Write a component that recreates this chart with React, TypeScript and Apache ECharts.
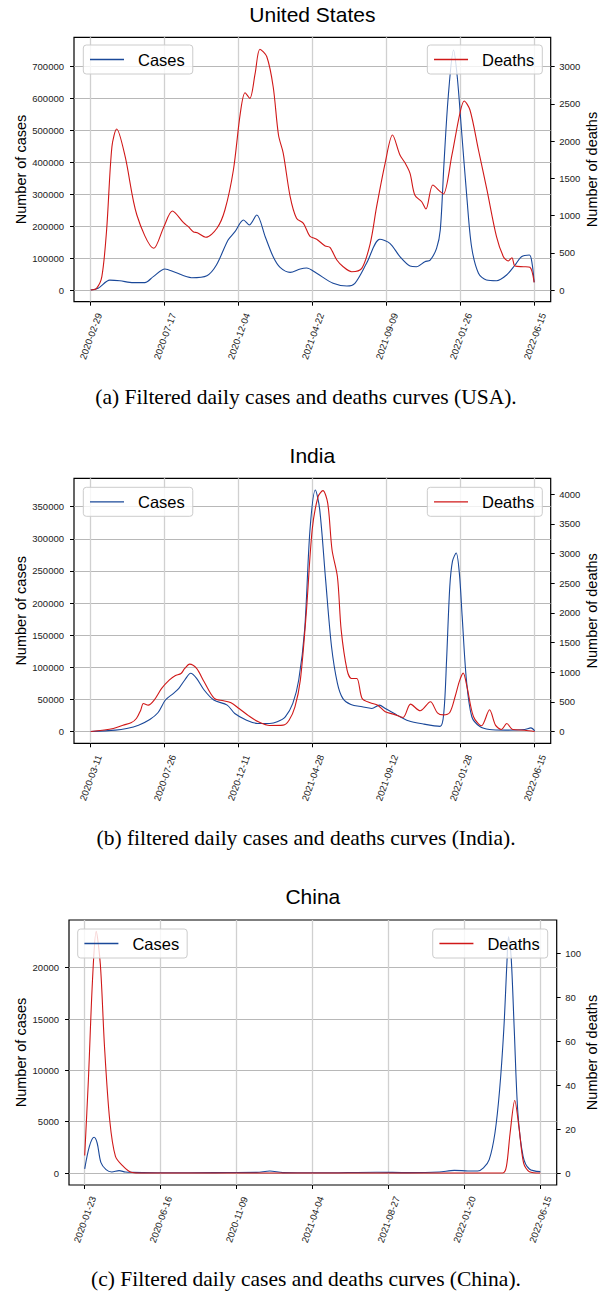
import React, { useEffect, useRef } from 'react';
import * as echarts from 'echarts';

// ---------- tick labels ----------
const usTickLabels = ['2020-02-29', '2020-07-17', '2020-12-04', '2021-04-22', '2021-09-09', '2022-01-26', '2022-06-15'];
const inTickLabels = ['2020-03-11', '2020-07-26', '2020-12-11', '2021-04-28', '2021-09-12', '2022-01-28', '2022-06-15'];
const cnTickLabels = ['2020-01-23', '2020-06-16', '2020-11-09', '2021-04-04', '2021-08-27', '2022-01-20', '2022-06-15'];

// total days between first and last tick
const usSpanDays = 837;
const inSpanDays = 826;
const cnSpanDays = 874;

// ---------- series values: [day offset, value] ----------
const usCases = [[0, 0], [14, 5300], [36, 31000], [55, 29000], [80, 23000], [102, 23000], [118, 42000], [140, 65800], [159, 55400], [190, 38600], [219, 44800], [237, 78400], [259, 156700], [272, 182800], [288, 219400], [299, 203800], [313, 235100], [329, 167100], [344, 104400], [357, 71100], [376, 55400], [395, 66000], [407, 69000], [426, 52300], [457, 21000], [483, 12500], [498, 21000], [520, 83700], [545, 158900], [564, 146400], [583, 104400], [602, 75200], [614, 73100], [630, 88700], [640, 94000], [652, 130700], [659, 188000], [666, 397000], [674, 606000], [684, 752300], [691, 668700], [699, 501600], [709, 292600], [718, 135700], [731, 52300], [746, 31300], [765, 29200], [784, 47000], [800, 78400], [812, 104400], [827, 109700], [832, 83700], [836, 24100]];
const usDeaths = [[0, 0], [11, 23], [21, 179], [30, 806], [40, 1925], [49, 2163], [65, 1791], [87, 1008], [119, 560], [138, 851], [154, 1061], [175, 904], [184, 851], [194, 779], [201, 770], [217, 708], [238, 829], [253, 1075], [269, 1612], [282, 2374], [291, 2651], [300, 2575], [310, 2911], [319, 3234], [332, 3134], [344, 2731], [354, 2082], [363, 1836], [376, 1254], [388, 963], [401, 896], [413, 725], [426, 681], [442, 591], [451, 573], [464, 403], [476, 313], [492, 246], [511, 291], [527, 627], [539, 1119], [555, 1702], [569, 2082], [583, 1814], [593, 1702], [602, 1568], [611, 1276], [624, 1186], [632, 1088], [645, 1411], [659, 1321], [665, 1290], [681, 1814], [696, 2374], [704, 2539], [715, 2418], [731, 1881], [747, 1344], [765, 716], [778, 448], [787, 390], [794, 434], [800, 322], [816, 313], [828, 305], [836, 103]];

const inCases = [[0, 0], [46, 2100], [67, 4700], [89, 9900], [110, 18750], [125, 29200], [139, 49000], [154, 59400], [164, 67200], [175, 80200], [186, 90600], [197, 82800], [211, 64600], [229, 49000], [254, 41100], [268, 28100], [290, 17700], [311, 12500], [333, 12500], [347, 15100], [362, 22900], [376, 43700], [387, 80200], [398, 158300], [408, 314600], [418, 376000], [426, 345800], [437, 236400], [448, 132300], [459, 75000], [469, 51600], [484, 42200], [505, 38500], [523, 35900], [537, 41100], [548, 35900], [570, 25500], [591, 16700], [620, 11500], [650, 8000], [657, 30000], [662, 110000], [668, 225000], [673, 265000], [680, 278000], [686, 245000], [691, 180000], [699, 80000], [709, 23000], [724, 7800], [742, 3100], [771, 2100], [807, 3100], [819, 5700], [826, 1000]];
const inDeaths = [[0, 0], [42, 51], [60, 107], [75, 146], [85, 219], [93, 360], [98, 473], [107, 444], [118, 529], [132, 726], [146, 866], [157, 940], [168, 979], [175, 1063], [184, 1136], [197, 1063], [211, 838], [230, 557], [247, 518], [261, 484], [276, 388], [294, 264], [312, 163], [333, 101], [358, 107], [369, 191], [380, 416], [390, 866], [401, 1992], [412, 3398], [423, 3961], [432, 4062], [441, 3848], [449, 3061], [459, 2610], [466, 1710], [477, 1035], [485, 895], [495, 895], [505, 557], [520, 484], [534, 444], [548, 332], [563, 293], [581, 236], [595, 461], [613, 349], [632, 501], [645, 315], [656, 281], [668, 320], [678, 590], [686, 850], [693, 984], [700, 758], [712, 253], [727, 96], [742, 366], [753, 107], [764, 34], [774, 135], [785, 34], [807, 22], [826, 0]];

const cnCases = [[0, 400], [9, 2600], [18, 3480], [24, 2900], [31, 1040], [41, 325], [52, 100], [66, 230], [78, 100], [92, 65], [150, 20], [250, 40], [330, 60], [355, 195], [380, 40], [450, 20], [560, 80], [620, 40], [680, 100], [709, 260], [735, 200], [754, 195], [765, 490], [776, 1300], [787, 3900], [796, 8130], [804, 14000], [810, 20500], [813, 23000], [818, 21100], [824, 14000], [831, 5850], [841, 1630], [853, 390], [874, 130]];
const cnDeaths = [[0, 8], [7, 42], [15, 88], [22, 110], [30, 95], [38, 57.5], [48, 24], [59, 7.6], [74, 3], [89, 0.3], [103, 0], [450, 0], [802, 0], [809, 3], [816, 18], [825, 33], [833, 21], [842, 4.5], [853, 0.6], [874, 0]];

// axis tick settings
const usCasesAxis = { top: 700000, step: 100000 };
const usDeathsAxis = { top: 3000, step: 500 };
const inCasesAxis = { top: 350000, step: 50000 };
const inDeathsAxis = { top: 4000, step: 500 };
const cnCasesAxis = { top: 20000, step: 5000 };
const cnDeathsAxis = { top: 100, step: 20 };

// ---------- layout (pixels) ----------
const SANS = '"Liberation Sans", Arial, Helvetica, sans-serif';
const SERIF = '"Liberation Serif", "Times New Roman", Times, serif';
const BLUE = '#1a4899';
const RED = '#d01818';

type Layout = {
  left: number; right: number; top: number; bottom: number;
  tick0: number; tick6: number; zeroY: number; casesTopY: number; deathsTopY: number;
  titleY: number; captionY: number; legendTop: number; casesLegendLeft: number; deathsLegendRight: number;
};

const panels = [
  {
    title: 'United States', caption: '(a) Filtered daily cases and deaths curves (USA).',
    ticks: usTickLabels, span: usSpanDays, cases: usCases, deaths: usDeaths, ca: usCasesAxis, da: usDeathsAxis,
    L: { left: 74, right: 550.7, top: 37.3, bottom: 301.7, tick0: 90.7, tick6: 534.7, zeroY: 290, casesTopY: 66.7, deathsTopY: 66.7, titleY: 14.7, captionY: 397, legendTop: 45, casesLegendLeft: 83.3, deathsLegendRight: 61.7 } as Layout,
  },
  {
    title: 'India', caption: '(b) filtered daily cases and deaths curves (India).',
    ticks: inTickLabels, span: inSpanDays, cases: inCases, deaths: inDeaths, ca: inCasesAxis, da: inDeathsAxis,
    L: { left: 74, right: 550.7, top: 478.3, bottom: 743.3, tick0: 90.7, tick6: 534.7, zeroY: 731.5, casesTopY: 506.7, deathsTopY: 494.3, titleY: 455.8, captionY: 838.3, legendTop: 487.3, casesLegendLeft: 83.3, deathsLegendRight: 61.7 } as Layout,
  },
  {
    title: 'China', caption: '(c) Filtered daily cases and deaths curves (China).',
    ticks: cnTickLabels, span: cnSpanDays, cases: cnCases, deaths: cnDeaths, ca: cnCasesAxis, da: cnDeathsAxis,
    L: { left: 69, right: 556.7, top: 920, bottom: 1185, tick0: 84.7, tick6: 540.3, zeroY: 1173, casesTopY: 967.7, deathsTopY: 953.3, titleY: 896.7, captionY: 1279, legendTop: 929, casesLegendLeft: 77.7, deathsLegendRight: 56.3 } as Layout,
  },
];

function buildOption() {
  const grid: any[] = [];
  const xAxis: any[] = [];
  const yAxis: any[] = [];
  const series: any[] = [];
  const legend: any[] = [];
  const graphic: any[] = [];

  const tickLabelStyle = { fontFamily: SANS, fontSize: 9.5, color: '#222' };
  const hiddenAxis = (gridIndex: number) => ({
    gridIndex, type: 'value', min: 0, max: 1, show: false,
    axisLine: { show: false, onZero: false }, axisTick: { show: false }, axisLabel: { show: false }, splitLine: { show: false }, minorTick: { show: false }, minorSplitLine: { show: false },
  });
  const noGridOut = { containLabel: false, outerBoundsMode: 'none' };
  const tickStyle = { show: true, length: 4, lineStyle: { color: '#000', width: 1 } };

  panels.forEach((p, i) => {
    const L = p.L;
    const g = i * 4;
    const pxPerUnitX = (L.tick6 - L.tick0) / 6; // x unit = one tick step
    const xMin = (L.left - L.tick0) / pxPerUnitX;
    const xMax = 6 + (L.right - L.tick6) / pxPerUnitX;
    const pxC = (L.zeroY - L.casesTopY) / p.ca.top;
    const cMin = -(L.bottom - L.zeroY) / pxC;
    const cMax = (L.zeroY - L.top) / pxC;
    const pxD = (L.zeroY - L.deathsTopY) / p.da.top;
    const dMin = -(L.bottom - L.zeroY) / pxD;
    const dMax = (L.zeroY - L.top) / pxD;
    const w = L.right - L.left;
    const midY = (L.top + L.bottom) / 2;

    grid.push(
      { left: L.left, top: L.top, width: w, height: L.bottom - L.top, show: true, borderColor: '#000', borderWidth: 1.2, backgroundColor: 'transparent', ...noGridOut },
      { left: L.tick0, top: L.top, width: L.tick6 - L.tick0, height: L.bottom - L.top, ...noGridOut },
      { left: L.left, top: L.casesTopY, width: w, height: L.zeroY - L.casesTopY, ...noGridOut },
      { left: L.left, top: L.deathsTopY, width: w, height: L.zeroY - L.deathsTopY, ...noGridOut },
    );

    const ticks = p.ticks;
    xAxis.push(
      { ...hiddenAxis(g), min: xMin, max: xMax },
      {
        gridIndex: g + 1, type: 'value', min: 0, max: 6, interval: 1, position: 'bottom',
        axisLine: { show: false, onZero: false },
        axisTick: tickStyle,
        minorTick: { show: false },
        axisLabel: {
          show: true, rotate: 70, align: 'center', verticalAlign: 'middle', margin: 34.5,
          formatter: (v: number) => ticks[Math.round(v)] ?? '', ...tickLabelStyle,
        },
        splitLine: { show: true, lineStyle: { color: '#d0d0d0', width: 1.3 } },
      },
      hiddenAxis(g + 2),
      hiddenAxis(g + 3),
    );

    yAxis.push(
      { ...hiddenAxis(g), min: cMin, max: cMax, position: 'left' },
      { ...hiddenAxis(g), min: dMin, max: dMax, position: 'right' },
      hiddenAxis(g + 1),
      {
        gridIndex: g + 2, type: 'value', min: 0, max: p.ca.top, interval: p.ca.step, position: 'left',
        axisLine: { show: false, onZero: false },
        axisTick: tickStyle,
        minorTick: { show: false },
        axisLabel: { show: true, margin: 10, formatter: (v: number) => String(v), ...tickLabelStyle },
        splitLine: { show: true, lineStyle: { color: '#b0b0b0', width: 0.9 } },
      },
      {
        gridIndex: g + 3, type: 'value', min: 0, max: p.da.top, interval: p.da.step, position: 'right',
        axisLine: { show: false, onZero: false },
        axisTick: tickStyle,
        minorTick: { show: false },
        axisLabel: { show: true, margin: 8.5, formatter: (v: number) => String(v), ...tickLabelStyle },
        splitLine: { show: false },
      },
    );

    const toX = (d: number) => (d * 6) / p.span;
    series.push(
      {
        type: 'line', name: 'Cases', xAxisIndex: g, yAxisIndex: i * 5,
        data: p.cases.map(([d, v]) => [toX(d), v]),
        symbol: 'none', smooth: 0.3, lineStyle: { color: BLUE, width: 1.1 }, itemStyle: { color: BLUE }, z: 3,
      },
      {
        type: 'line', name: 'Deaths', xAxisIndex: g, yAxisIndex: i * 5 + 1,
        data: p.deaths.map(([d, v]) => [toX(d), v]),
        symbol: 'none', smooth: 0.3, lineStyle: { color: RED, width: 1.1 }, itemStyle: { color: RED }, z: 3,
      },
    );

    const legendBase = {
      orient: 'horizontal', itemWidth: 34, itemHeight: 1.3, icon: 'rect', padding: [6, 8, 6, 6.7],
      backgroundColor: 'rgba(255,255,255,0.8)', borderColor: '#cccccc', borderWidth: 1, borderRadius: 3,
      selectedMode: false, top: L.legendTop,
      textStyle: { fontFamily: SANS, fontSize: 16.5, lineHeight: 17, color: '#000', padding: [0, 0, 0, 9] },
    };
    legend.push(
      { ...legendBase, left: L.casesLegendLeft, data: [{ name: 'Cases', itemStyle: { color: BLUE } }] },
      { ...legendBase, right: L.deathsLegendRight, data: [{ name: 'Deaths', itemStyle: { color: RED } }] },
    );

    graphic.push(
      { type: 'text', x: (L.left + L.right) / 2, y: L.titleY, style: { text: p.title, fontFamily: SANS, fontSize: 21, fill: '#000', align: 'center', verticalAlign: 'middle' } },
      { type: 'text', x: 306, y: L.captionY, style: { text: p.caption, fontFamily: SERIF, fontSize: 21.5, fill: '#000', align: 'center', verticalAlign: 'middle' } },
      { type: 'text', x: 20.5, y: midY, rotation: Math.PI / 2, style: { text: 'Number of cases', fontFamily: SANS, fontSize: 14.5, fill: '#000', align: 'center', verticalAlign: 'middle' } },
      { type: 'text', x: 591.5, y: midY, rotation: Math.PI / 2, style: { text: 'Number of deaths', fontFamily: SANS, fontSize: 14.5, fill: '#000', align: 'center', verticalAlign: 'middle' } },
    );
  });

  return { animation: false, backgroundColor: '#ffffff', grid, xAxis, yAxis, series, legend, graphic };
}

export default function App() {
  const ref = useRef<HTMLDivElement>(null);
  useEffect(() => {
    if (!ref.current) return;
    const chart = echarts.init(ref.current, undefined, { renderer: 'svg', width: 604, height: 1292 });
    chart.setOption(buildOption() as any);
    return () => chart.dispose();
  }, []);
  return <div ref={ref} style={{ position: 'fixed', left: 0, top: 0, width: 604, height: 1292 }} />;
}
